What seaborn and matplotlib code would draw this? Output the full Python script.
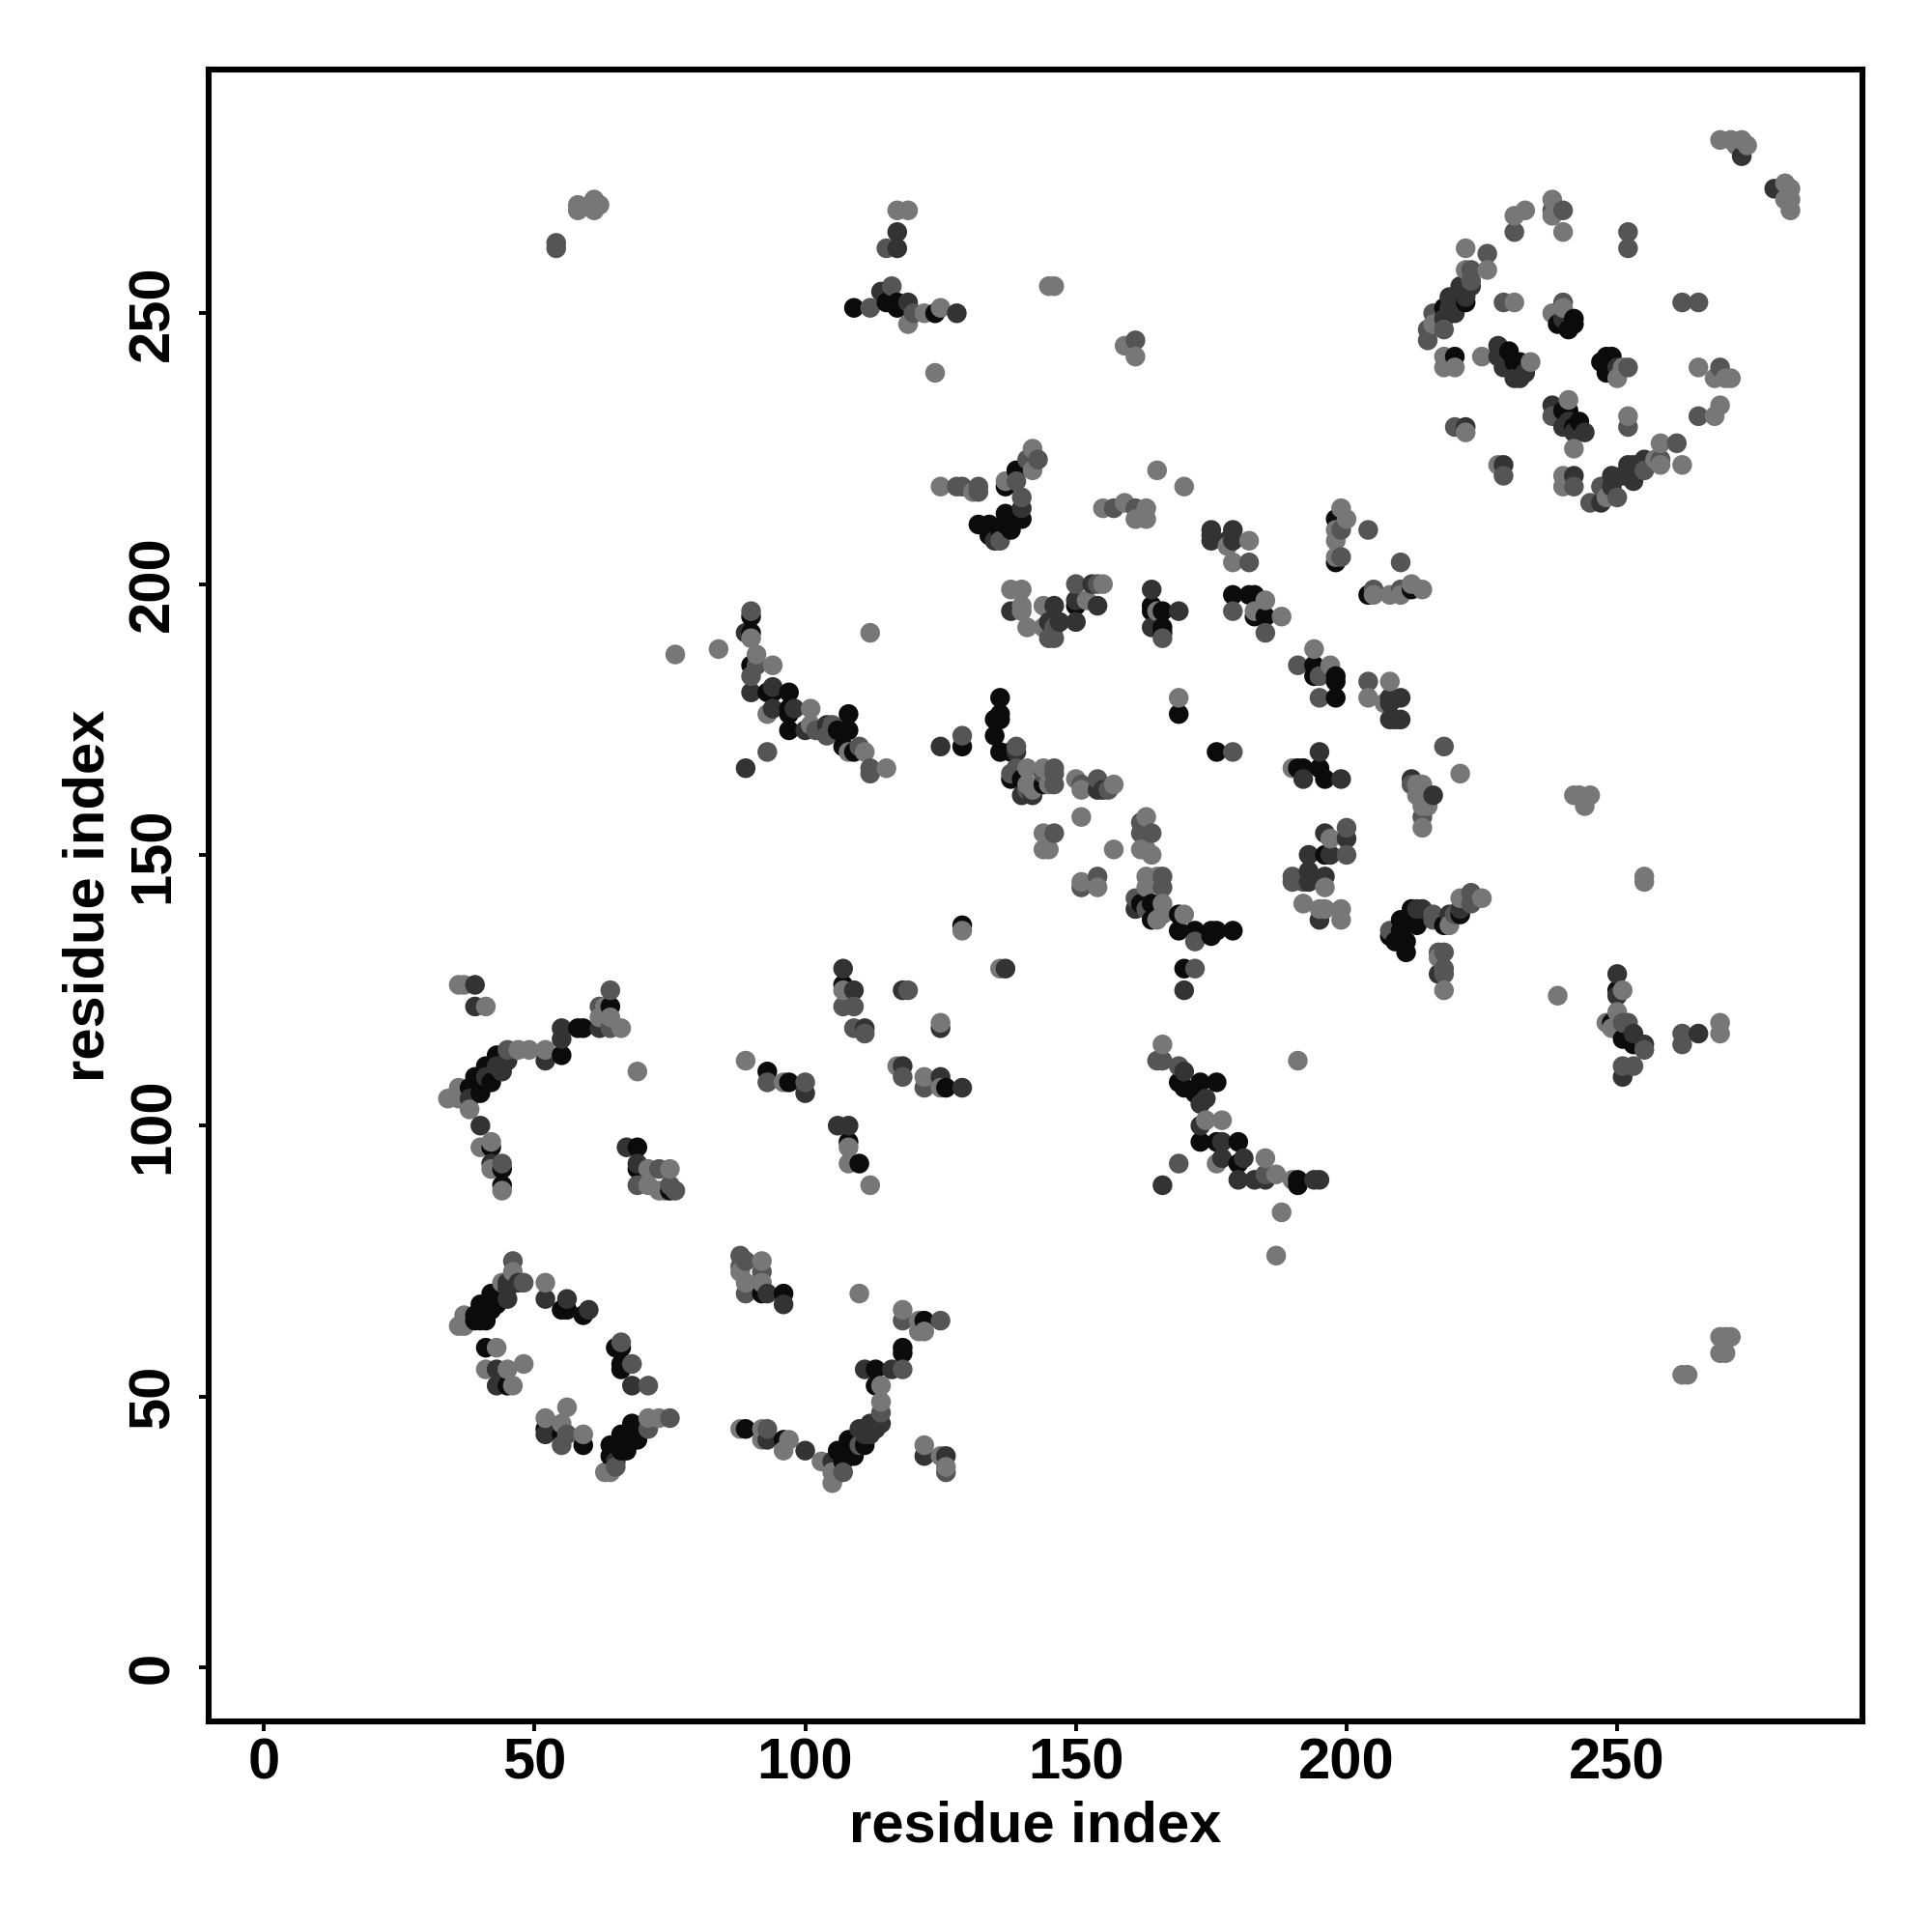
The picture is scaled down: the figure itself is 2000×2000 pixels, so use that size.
import pandas as pd
import matplotlib
matplotlib.use("Agg")
import matplotlib.pyplot as plt
import seaborn as sns

# contacts (residue, residue), one list per grey level
black_pts = [(39,64),(40,64),(41,64),(40,67),(41,66),(42,66),(42,69),(43,67),(44,68),(43,69),(39,65),(55,66),(56,66),(59,65),
    (41,59),(45,52),(65,59),(66,59),(66,56),(66,55),(52,44),(59,41),(55,43),
    (64,41),(64,39),(65,40),(66,40),(67,40),(66,43),(67,42),(69,42),(68,45),(92,69),(96,69),
    (122,64),(118,59),(118,58),(113,55),(113,52),(111,41),(108,42),(106,40),(109,39),(107,38),(108,40),(89,44),(96,42),
    (64,122),(58,118),(59,118),(55,113),(43,113),(41,111),(39,109),(42,108),(40,106),(38,107),(42,96),(44,92),(44,89),
    (69,96),(69,92),(75,88),(93,110),(97,108),(108,97),(110,93),(126,107),(107,126),
    (90,194),(90,191),(90,185),(93,180),(94,180),(97,180),(97,177),(97,176),(97,173),(106,173),(108,176),(108,173),(107,170),(109,169),(129,170),
    (139,221),(137,218),(140,212),(137,213),(132,211),(134,211),(137,211),(138,210),(136,210),(134,209),(150,196),
    (164,196),(164,195),(166,195),(166,192),(166,191),(198,204),(198,212),(179,198),(182,198),(183,198),(183,194),(185,194),
    (194,185),(194,183),(198,183),(198,182),(198,179),(169,176),(136,179),(136,176),(135,175),(136,175),(135,172),(212,199),(204,198),
    (136,169),(138,169),(138,164),(140,164),(144,163),(162,141),(164,141),(164,138),(169,139),(169,136),(172,136),(175,136),(176,136),(175,135),(179,136),
    (170,129),(169,108),(170,107),(173,108),(176,108),(172,106),(173,97),(176,97),(180,97),(180,93),(191,90),(191,89),(176,169),
    (191,166),(192,166),(195,166),(196,164),(196,150),
    (208,135),(209,134),(210,138),(210,136),(211,134),(211,132),(212,140),(212,138),(213,137),(218,137),(221,139),(250,125),(249,119),(251,116),(253,115),
    (222,252),(218,251),(239,248),(241,247),(242,249),(242,248),(220,242),(230,243),(231,241),(232,241),(248,242),(247,241),(249,242),(248,239),
    (240,232),(241,232),(243,230),(242,229),(109,251),(115,252),(117,252),(117,251),(124,250),(129,137)]

dark_pts = [(45,71),(45,68),(45,70),(47,71),(52,68),(56,68),(60,66),(43,55),(43,52),(68,52),(65,38),(52,43),
    (93,69),(96,67),(93,42),(100,40),(122,39),(126,39),(111,55),(116,55),(114,45),(113,44),(112,45),(110,44),(112,43),(105,38),(111,43),
    (39,126),(39,122),(55,118),(62,118),(55,116),(52,112),(45,112),(43,111),(44,110),(41,109),(38,105),(40,100),(42,93),(67,96),(69,93),
    (100,106),(107,129),(109,125),(111,118),(118,125),(125,118),(137,129),(118,111),(125,109),(129,107),(106,100),(108,100),
    (89,191),(94,181),(94,177),(98,177),(100,173),(104,174),(125,170),(89,166),(90,180),
    (140,214),(135,208),(175,210),(175,209),(175,208),(179,208),(178,208),(179,210),(138,195),(146,196),(145,193),(147,193),(150,197),(150,193),
    (153,200),(154,196),(164,199),(164,192),(169,195),(208,179),(210,179),(208,178),(208,175),(209,175),(210,175),
    (139,169),(140,161),(142,161),(154,162),(155,162),(161,140),(170,125),(170,110),(174,105),(173,104),(173,100),(177,97),(177,94),(181,94),
    (180,90),(183,90),(185,90),(194,90),(195,90),(166,89),(195,169),(192,164),(199,164),(196,154),(200,153),(193,150),(197,150),(193,147),(193,145),(196,146),(195,138),
    (212,164),(216,161),(213,140),(214,140),(219,139),(221,140),(217,128),(250,128),(250,124),(253,117),(255,115),(265,117),(251,109),
    (273,279),(279,273),(221,255),(223,255),(219,253),(222,253),(219,251),(220,250),(218,249),(240,249),(228,244),(228,242),(229,240),(231,238),(233,239),(232,238),
    (250,240),(238,233),(240,229),(241,230),(244,228),(242,228),(222,229),(255,223),(252,222),(253,222),(253,219),(249,220),(251,220),(249,218),(247,215),(229,222),(242,220),
    (117,265),(117,262),(114,254),(119,252),(128,250)]

mid_pts = [(46,75),(48,71),(66,60),(68,56),(71,52),(56,43),(55,41),(71,44),(75,46),(65,37),(88,76),(89,75),(88,74),(92,73),(89,69),(93,44),
    (118,64),(125,64),(118,55),(114,47),(110,41),(107,36),(126,36),
    (64,125),(62,122),(64,118),(45,114),(44,93),(69,89),(75,89),(76,88),(73,92),(93,108),(100,108),(107,122),(109,122),(109,118),(111,117),(119,125),(118,109),(122,107),
    (90,195),(91,185),(90,183),(102,173),(104,172),(105,174),(110,170),(112,166),(112,165),(93,169),(129,172),
    (141,223),(143,223),(139,219),(140,216),(132,218),(132,217),(128,218),(129,218),(157,214),(161,214),(182,204),(199,210),(199,205),(204,210),(210,204),(205,199),(210,199),
    (146,192),(145,190),(146,190),(150,200),(154,200),(166,190),(179,195),(185,191),(191,185),(195,183),(195,179),(204,182),(136,208),
    (139,170),(138,165),(139,166),(146,166),(146,165),(146,163),(141,162),(144,165),(151,163),(154,164),(156,162),(146,154),(162,156),(162,154),(164,154),
    (154,146),(151,144),(166,146),(166,144),(161,142),(163,140),(172,134),(172,129),(165,112),(166,112),(169,111),(185,91),(169,93),(179,169),
    (192,145),(190,146),(190,145),(200,155),(200,150),
    (218,170),(212,163),(214,157),(208,136),(216,139),(216,138),(220,139),(223,143),(223,141),(217,132),(218,132),(218,129),(218,128),(251,119),(252,119),(255,114),(253,111),(251,111),(262,117),(262,115),
    (238,269),(240,269),(231,265),(252,265),(252,262),(226,261),(223,258),(223,256),(216,250),(218,247),(215,247),(215,245),(229,252),(240,252),(262,252),(265,252),(252,240),(269,240),
    (265,231),(252,229),(238,231),(261,226),(258,223),(255,221),(250,216),(247,218),(245,215),(229,220),(242,218),(220,229),
    (54,263),(54,262),(115,262),(112,251),(116,255),(120,250),(161,245)]

light_pts = [(46,73),(44,71),(52,71),(36,63),(37,63),(37,65),(43,59),(41,55),(45,55),(48,56),(46,52),(56,48),(52,46),(55,45),(59,43),(64,36),(63,36),(71,46),(73,46),
    (88,73),(92,75),(89,71),(92,71),(110,69),(118,66),(121,64),(122,62),(121,62),(114,52),(114,49),(88,44),(92,44),(92,42),(97,42),(96,40),(103,38),(105,36),(105,34),(122,41),(125,39),(126,37),
    (36,126),(37,126),(41,122),(63,122),(62,120),(64,120),(66,118),(52,114),(49,114),(47,114),(36,107),(34,105),(36,105),(38,103),(40,96),(42,97),(42,92),(44,88),
    (71,92),(75,92),(71,89),(73,88),(74,88),(69,110),(89,112),(96,108),(108,96),(108,93),(112,89),(107,125),(117,111),(122,109),(125,119),(125,107),(136,129),(129,136),
    (90,190),(84,188),(91,187),(94,185),(93,176),(101,177),(101,174),(108,169),(111,169),(115,166),(112,191),(76,187),
    (142,225),(142,221),(137,219),(131,217),(125,218),(155,214),(159,215),(163,214),(161,212),(163,212),(165,221),(170,218),(178,207),(182,208),(179,204),
    (199,214),(200,212),(198,210),(198,208),(198,205),(205,198),(208,198),(210,198),(212,200),(214,199),(138,199),(140,199),(140,196),(140,195),(141,192),(144,196),(144,192),
    (152,197),(155,200),(165,195),(185,197),(183,195),(188,194),(194,188),(197,185),(208,182),(204,179),(207,178),(169,179),
    (141,166),(141,163),(142,162),(144,166),(145,163),(150,164),(151,162),(157,163),(151,157),(157,151),(144,154),(144,151),(145,151),(163,157),(162,151),(163,151),(164,150),
    (151,145),(154,144),(163,146),(165,146),(163,144),(166,141),(165,138),(166,139),(170,139),(166,115),(174,101),(177,101),(176,93),(185,94),(187,91),(190,90),(191,112),(188,84),(187,76),
    (190,166),(197,153),(192,141),(195,140),(196,140),(199,140),(199,138),(196,144),
    (221,165),(213,163),(214,163),(213,161),(214,159),(215,159),(214,155),(242,161),(243,161),(245,161),(244,159),(255,146),(255,145),(219,137),(221,142),(225,142),(217,131),(218,125),
    (239,124),(251,125),(250,121),(248,119),(249,118),(269,119),(269,117),
    (117,269),(119,269),(122,250),(119,248),(125,251),(124,239),(145,255),(146,255),(159,244),(161,242),(58,270),(58,269),(61,271),(61,269),(62,270),
    (262,54),(263,54),(269,58),(270,58),(269,61),(270,61),(271,61),
    (269,282),(271,282),(273,282),(272,281),(274,281),(281,274),(282,273),(281,271),(282,271),(282,269),(233,269),(231,268),(238,271),(238,268),(240,265),
    (222,262),(226,258),(222,258),(231,252),(240,251),(238,250),(216,248),(218,242),(218,240),(220,240),(225,242),(234,241),(250,238),(251,240),(265,240),(268,238),(270,238),(271,238),
    (269,233),(268,231),(252,231),(241,234),(242,225),(222,228),(258,226),(262,222),(258,222),(257,223),(248,216),(228,222),(240,220),(240,218)]

tick_vals = [0, 50, 100, 150, 200, 250]

frames = []
for level, pts in [("black", black_pts), ("dark", dark_pts), ("mid", mid_pts), ("light", light_pts)]:
    d = pd.DataFrame(pts, columns=["x", "y"])
    d["level"] = level
    frames.append(d)
# the original seems to draw left to right
df = pd.concat(frames).sort_values("x", kind="stable")

sns.set_theme(style="white")
plt.rcParams["font.family"] = ["Liberation Sans", "DejaVu Sans"]
plt.rcParams["font.weight"] = "bold"

fig = plt.figure(figsize=(10, 10), dpi=200)
ax = fig.add_axes([0.108, 0.109, 0.856, 0.855])
sns.scatterplot(data=df, x="x", y="y", hue="level",
                palette={"black": "#0b0b0b", "dark": "#333333", "mid": "#555555", "light": "#777777"},
                s=54, linewidth=0, legend=False, ax=ax)
ax.set_xlim(-10.2, 295.3)
ax.set_ylim(-10, 295)
ax.set_xticks(tick_vals)
ax.set_yticks(tick_vals)
ax.tick_params(bottom=True, left=True, length=3.6, width=1.4, labelsize=21.5, colors="black")
ax.tick_params(axis="x", pad=2.5)
ax.tick_params(axis="y", pad=7)
plt.setp(ax.get_yticklabels(), rotation=90, va="center")
ax.set_xlabel("residue index", fontsize=21.5, fontweight="bold", labelpad=3.5, color="black")
ax.set_ylabel("residue index", fontsize=21.5, fontweight="bold", labelpad=4.5, color="black")
for s in ax.spines.values():
    s.set_linewidth(2.2)
    s.set_color("black")
plt.savefig("out.png", dpi=200)
